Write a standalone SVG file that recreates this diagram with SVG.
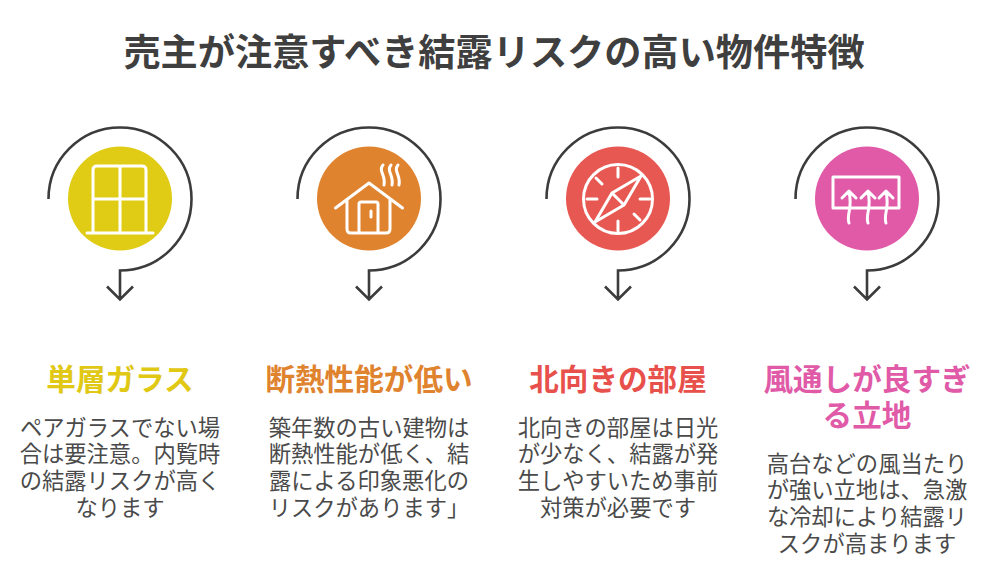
<svg xmlns="http://www.w3.org/2000/svg" width="1000" height="587" viewBox="0 0 1000 587">
<style>
text{font-family:"Noto Sans CJK JP","Noto Sans",sans-serif;text-anchor:middle}
.t{font-size:37.2px;font-weight:700;fill:#3f3f3f}
.h{font-size:29.600px;font-weight:700}
.b{font-size:22.300px;fill:#4a4a4a}
.ring{fill:none;stroke:#3c3c3c;stroke-width:2.6;stroke-linejoin:miter}
.ic{fill:none;stroke:#fff;stroke-width:3;stroke-linecap:round;stroke-linejoin:round}
</style>
<defs>
<g id="arc"><path class="ring" d="M-71.5,0A71.5,71.5 0 1 1 0,71.5V100M-13,87.5L0,100.5L13,87.5"/></g>
</defs>
<rect width="1000" height="587" fill="#fff"/>
<text id="title" class="t" x="494" y="66">売主が注意すべき結露リスクの高い物件特徴</text>
<g id="connectors">
<use href="#arc" x="120" y="199"/>
<use href="#arc" x="369" y="199"/>
<use href="#arc" x="618" y="199"/>
<use href="#arc" x="867" y="199"/>
</g>
<g id="node1">
<circle cx="120" cy="198.500" r="52" fill="#e0cc14"/>
<path class="ic" d="M93,233V170Q93,166 97,166H142Q146,166 146,170V233M120,166V232M93,199H146M87,233H153"/>
<text class="h" x="120" y="390" fill="#e0c814">単層ガラス</text>
<text class="b"><tspan x="120" y="436">ペアガラスでない場</tspan><tspan x="120" y="462">合は要注意。内覧時</tspan><tspan x="120" y="489">の結露リスクが高く</tspan><tspan x="120" y="516">なります</tspan></text>
</g>
<g id="node2">
<circle cx="369" cy="198.500" r="52" fill="#e0832e"/>
<path class="ic" d="M335.500,208L369,183L402.500,208M347,200V229Q347,233 351,233H386Q390,233 390,229V200M359,233V204Q359,202 361,202H376Q378,202 378,204V233M371,211V217M383,165C378,171 386,175 384,185M398,165C393,171 401,175 399,185M391,165C386,171 394,175 392,185"/>
<text class="h" x="369" y="390" fill="#e0832e">断熱性能が低い</text>
<text class="b"><tspan x="369" y="436">築年数の古い建物は</tspan><tspan x="369" y="462">断熱性能が低く、結</tspan><tspan x="369" y="489">露による印象悪化の</tspan><tspan x="369" y="516">リスクがあります」</tspan></text>
</g>
<g id="node3">
<circle cx="618" cy="198.500" r="52" fill="#e85852"/>
<g class="ic"><circle cx="618" cy="199" r="34.500"/>
<path d="M618,168V177M618,221V231M587,199H597M640,199H650M596,178L602,184M634,214L640,220M641,176L612,193L595,222L624,205ZM612,193L624,205"/></g>
<text class="h" x="618" y="390" fill="#e8504c">北向きの部屋</text>
<text class="b"><tspan x="618" y="436">北向きの部屋は日光</tspan><tspan x="618" y="462">が少なく、結露が発</tspan><tspan x="618" y="489">生しやすいため事前</tspan><tspan x="618" y="516">対策が必要です</tspan></text>
</g>
<g id="node4">
<circle cx="867" cy="198.500" r="52" fill="#e05aa8"/>
<path class="ic" d="M833,177H899V208H833ZM849,223C846,214 853,209 849,192M868,223C865,214 872,209 868,192M886,223C883,214 890,209 886,192M842,198L849,191L856,198M861,198L868,191L875,198M879,198L886,191L893,198"/>
<text class="h" fill="#e05aa8"><tspan x="867" y="390">風通しが良すぎ</tspan><tspan x="867" y="426">る立地</tspan></text>
<text class="b"><tspan x="867" y="472">高台などの風当たり</tspan><tspan x="867" y="498">が強い立地は、急激</tspan><tspan x="867" y="525">な冷却により結露リ</tspan><tspan x="867" y="552">スクが高まります</tspan></text>
</g>
</svg>
